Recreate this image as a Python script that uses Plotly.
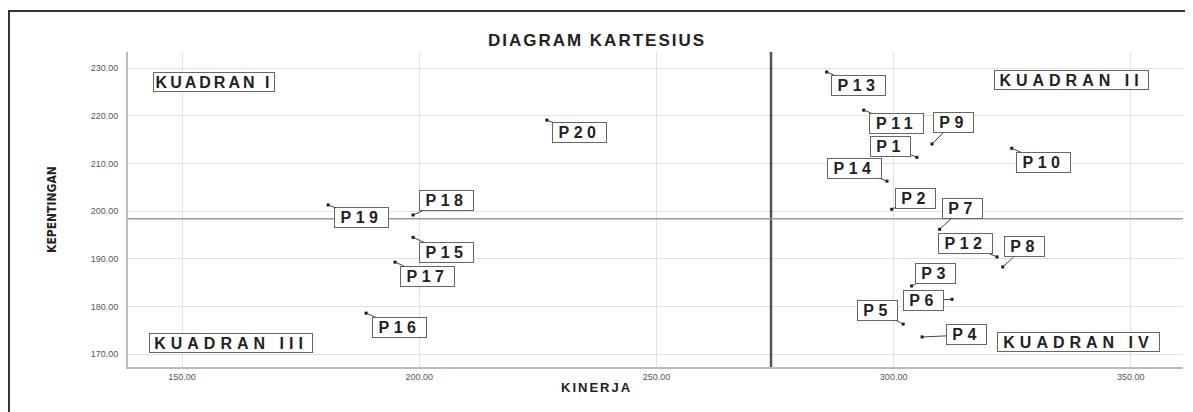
import plotly.graph_objects as go

# ---- data ----
labels = ["P1", "P2", "P3", "P4", "P5", "P6", "P7", "P8", "P9", "P10",
          "P11", "P12", "P13", "P14", "P15", "P16", "P17", "P18", "P19", "P20"]
kinerja = [304.9, 299.6, 303.8, 306.0, 302.0, 312.3, 309.7, 323.0, 308.1, 324.9,
           293.7, 321.8, 285.9, 298.6, 198.7, 188.8, 194.9, 198.7, 180.8, 226.9]
kepentingan = [211.3, 200.4, 184.3, 173.6, 176.3, 181.5, 196.2, 188.3, 214.1, 213.2,
               221.2, 190.4, 229.2, 206.3, 194.5, 178.6, 189.3, 199.2, 201.3, 219.1]
x_ticks = [150, 200, 250, 300, 350]
y_ticks = [170, 180, 190, 200, 210, 220, 230]
quadrant_names = ["KUADRAN I", "KUADRAN II", "KUADRAN III", "KUADRAN IV"]

# ---- label placement (pixel offsets of label box from its point) ----
label_offsets = [(-26, -11), (24, -11), (24, -12), (44, -2), (-26, -14), (-28, 1),
                 (23, -21), (22, -20), (21, -21), (32, 14), (33, 13), (-32, -13),
                 (32, 13), (-32, -13), (33, 15), (33, 14), (32, 14), (33, -14),
                 (33, 13), (33, 12)]
# paper x, paper y, box width, letter spacing
quadrant_pos = [(0.0815, 0.905, 118, 3), (0.894, 0.911, 151, 5),
                (0.0976, 0.076, 160, 5), (0.9005, 0.079, 159, 5)]

mean_x = sum(kinerja) / len(kinerja)
mean_y = sum(kepentingan) / len(kepentingan)

FONT = "Liberation Sans, Arial, sans-serif"


def spaced(txt, px):
    return '<b><span style="letter-spacing:%spx">%s</span></b>' % (px, txt)


fig = go.Figure()
fig.add_trace(go.Scatter(
    x=kinerja, y=kepentingan, mode="markers", text=labels,
    marker=dict(symbol="square", size=3, color="#111"),
    hoverinfo="text+x+y", showlegend=False,
))

annotations = []
for lab, xv, yv, (dx, dy) in zip(labels, kinerja, kepentingan, label_offsets):
    annotations.append(dict(
        x=xv, y=yv, xref="x", yref="y", text=spaced(lab, 4.5),
        showarrow=True, arrowhead=0, arrowwidth=1, arrowcolor="#444",
        ax=dx, ay=dy, standoff=0,
        font=dict(family=FONT, size=16, color="#222"),
        bgcolor="white", bordercolor="#666", borderwidth=1, borderpad=1,
        width=37 if len(lab) == 2 else 51, height=17,
    ))

for name, (px, py, w, sp) in zip(quadrant_names, quadrant_pos):
    annotations.append(dict(
        x=px, y=py, xref="paper", yref="paper", text=spaced(name, sp),
        showarrow=False, xanchor="center", yanchor="middle",
        font=dict(family=FONT, size=16, color="#222"),
        bgcolor="white", bordercolor="#666", borderwidth=1, borderpad=1,
        width=w, height=16,
    ))

annotations.append(dict(
    x=0.4445, y=-0.095, xref="paper", yref="paper", text=spaced("KINERJA", 2),
    showarrow=False, font=dict(family=FONT, size=13, color="#222"),
))
annotations.append(dict(
    x=-0.0806, y=0.5016, xref="paper", yref="paper", text="<b>KEPENTINGAN</b>",
    showarrow=False, textangle=-90,
    font=dict(family="Liberation Sans Narrow, DejaVu Sans Condensed, Arial Narrow, sans-serif", size=12, color="#222"),
))

shapes = [
    # quadrant divider lines
    dict(type="line", xref="x", yref="paper", x0=mean_x, x1=mean_x, y0=0, y1=1,
         line=dict(color="#555", width=2.5)),
    dict(type="line", xref="paper", yref="y", x0=0, x1=1, y0=mean_y, y1=mean_y,
         line=dict(color="#999", width=1.5)),
    # outer frame
    dict(type="rect", xref="paper", yref="paper", x0=-0.1128, x1=1.05, y0=-0.3, y1=1.130,
         line=dict(color="#333", width=2), layer="below"),
]

fig.update_layout(
    width=1193, height=412,
    margin=dict(l=120, r=18, t=44, b=53),
    paper_bgcolor="white", plot_bgcolor="white",
    title=dict(text=spaced("DIAGRAM KARTESIUS", 2), x=589 / 1193, xref="container", xanchor="center",
               y=1 - 32 / 412, yref="container", yanchor="middle",
               font=dict(family=FONT, size=17, color="#222")),
    xaxis=dict(range=[138.6, 361.0], tickvals=x_ticks, tickformat=".2f",
               showgrid=True, gridcolor="#e2e2e2", gridwidth=1,
               showline=True, linecolor="#bbb", linewidth=2, zeroline=False,
               ticks="", tickfont=dict(family=FONT, size=9, color="#555")),
    yaxis=dict(range=[167.3, 233.4], tickvals=y_ticks, tickformat=".2f",
               showgrid=True, gridcolor="#e2e2e2", gridwidth=1,
               showline=True, linecolor="#bbb", linewidth=2, zeroline=False,
               ticks="", ticklabelstandoff=6, tickfont=dict(family=FONT, size=9, color="#555")),
    annotations=annotations,
    shapes=shapes,
)

fig.write_html("out.html")
